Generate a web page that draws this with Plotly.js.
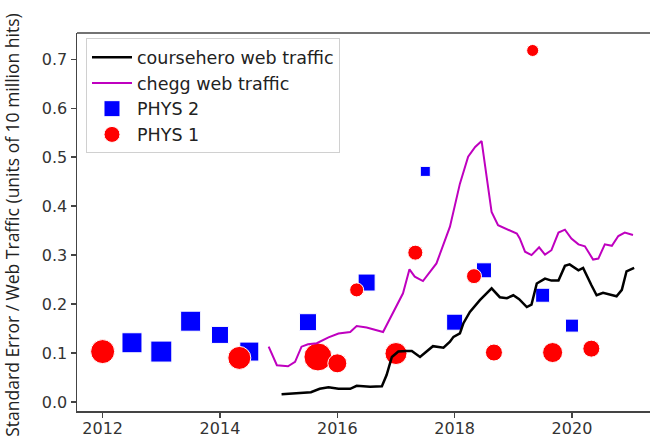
<!DOCTYPE html>
<html><head><meta charset="utf-8">
<script src="https://cdn.plot.ly/plotly-3.0.1.min.js"></script>
<style>html,body{margin:0;padding:0;overflow:hidden;background:#fff}</style>
</head><body><div id="chart" style="width:650px;height:438px"></div>
<script>
// coursehero web traffic (units of 10 million hits)
const courseheroYears = [2015.05,2015.41,2015.55,2015.70,2015.85,2016.02,2016.22,2016.33,2016.56,2016.76,2016.84,2016.93,2017.04,2017.18,2017.27,2017.41,2017.63,2017.81,2017.92,2017.98,2018.09,2018.15,2018.26,2018.43,2018.63,2018.77,2018.89,2019.00,2019.10,2019.23,2019.31,2019.40,2019.54,2019.65,2019.77,2019.88,2019.96,2020.11,2020.19,2020.33,2020.42,2020.53,2020.76,2020.85,2020.93,2021.06];
const courseheroValues = [0.016,0.018,0.020,0.027,0.030,0.027,0.027,0.033,0.031,0.032,0.055,0.092,0.103,0.104,0.104,0.092,0.114,0.111,0.123,0.133,0.140,0.161,0.184,0.208,0.232,0.214,0.212,0.218,0.210,0.194,0.199,0.242,0.252,0.248,0.248,0.278,0.281,0.269,0.274,0.239,0.218,0.223,0.216,0.229,0.267,0.274];
// chegg web traffic
const cheggYears = [2014.83,2014.97,2015.16,2015.28,2015.39,2015.50,2015.65,2015.85,2016.02,2016.22,2016.33,2016.50,2016.78,2017.12,2017.23,2017.32,2017.46,2017.69,2017.92,2018.09,2018.23,2018.35,2018.46,2018.63,2018.74,2018.94,2019.06,2019.11,2019.20,2019.31,2019.44,2019.54,2019.65,2019.77,2019.88,2019.99,2020.11,2020.22,2020.36,2020.45,2020.56,2020.68,2020.79,2020.90,2021.04];
const cheggValues = [0.113,0.075,0.073,0.082,0.113,0.118,0.120,0.132,0.140,0.143,0.155,0.152,0.143,0.222,0.271,0.256,0.247,0.283,0.358,0.446,0.501,0.521,0.533,0.388,0.361,0.351,0.344,0.334,0.307,0.300,0.316,0.301,0.310,0.346,0.352,0.334,0.322,0.318,0.291,0.293,0.322,0.319,0.339,0.346,0.341];
// PHYS 2 standard error
const phys2Years = [2012.5,2013.0,2013.5,2014.0,2014.5,2015.5,2016.5,2017.5,2018.0,2018.5,2019.5,2020.0];
const phys2Values = [0.121,0.103,0.165,0.137,0.103,0.163,0.244,0.471,0.163,0.269,0.218,0.156];
const phys2MarkerSizes = [20,21,20,17,19,17,17,10,16,15,14,13];
// PHYS 1 standard error
const phys1Years = [2012.0,2014.33,2015.67,2016.0,2016.33,2017.0,2017.33,2018.33,2018.67,2019.33,2019.67,2020.33];
const phys1Values = [0.103,0.090,0.092,0.079,0.229,0.099,0.305,0.257,0.101,0.718,0.101,0.109];
const phys1MarkerSizes = [24,23,28,19,14,22,15,15,17,12,20,17];

const yTitle = 'Standard Error / Web Traffic (units of 10 million hits)';

const traces = [
  {x: phys2Years, y: phys2Values, name: 'PHYS 2', mode: 'markers', type: 'scatter', legendrank: 3,
   marker: {symbol: 'square', color: '#0000ff', opacity: 1, size: phys2MarkerSizes}},
  {x: phys1Years, y: phys1Values, name: 'PHYS 1', mode: 'markers', type: 'scatter', legendrank: 4,
   marker: {symbol: 'circle', color: '#ff0000', opacity: 1, size: phys1MarkerSizes}},
  {x: courseheroYears, y: courseheroValues, name: 'coursehero web traffic', mode: 'lines', type: 'scatter', legendrank: 1,
   line: {color: '#000000', width: 2.5}},
  {x: cheggYears, y: cheggValues, name: 'chegg web traffic', mode: 'lines', type: 'scatter', legendrank: 2,
   line: {color: '#bf00bf', width: 2}}
];

const axisFont = {family: 'DejaVu Sans', size: 16, color: '#333'};
const layout = {
  width: 650, height: 438,
  margin: {l: 77, r: 0, t: 33, b: 27},
  paper_bgcolor: '#fff', plot_bgcolor: '#fff',
  showlegend: true,
  xaxis: {range: [2011.563, 2021.33], tick0: 2012, dtick: 2, showgrid: false, zeroline: false,
    showline: true, linecolor: '#444', linewidth: 1.5, ticks: 'outside', ticklen: 5, tickwidth: 1.5, tickcolor: '#444',
    ticklabelstandoff: -3, tickfont: axisFont},
  yaxis: {range: [-0.0184, 0.7537], tick0: 0, dtick: 0.1, tickformat: '.1f', showgrid: false, zeroline: false,
    showline: true, linecolor: '#444', linewidth: 1.5, ticks: 'outside', ticklen: 5, tickwidth: 1.5, tickcolor: '#444',
    tickfont: axisFont},
  legend: {x: 0.0157, y: 0.986, xanchor: 'left', yanchor: 'top', bgcolor: 'rgba(255,255,255,0.85)',
    bordercolor: '#d0d0d0', borderwidth: 1, itemwidth: 40,
    font: {family: 'DejaVu Sans', size: 17.5, color: '#222'}},
  shapes: [{type: 'line', xref: 'paper', yref: 'paper', x0: 0, x1: 1, y0: 1, y1: 1,
    line: {color: '#444', width: 1.5}}],
  annotations: [{text: yTitle, textangle: -90, xref: 'paper', yref: 'paper', x: -0.1134, y: 1.055,
    xanchor: 'center', yanchor: 'top', showarrow: false,
    font: {family: 'Open Sans', size: 17.5, color: '#222'}}]
};

Plotly.newPlot('chart', traces, layout, {displayModeBar: false, staticPlot: true});
</script>
</body></html>
